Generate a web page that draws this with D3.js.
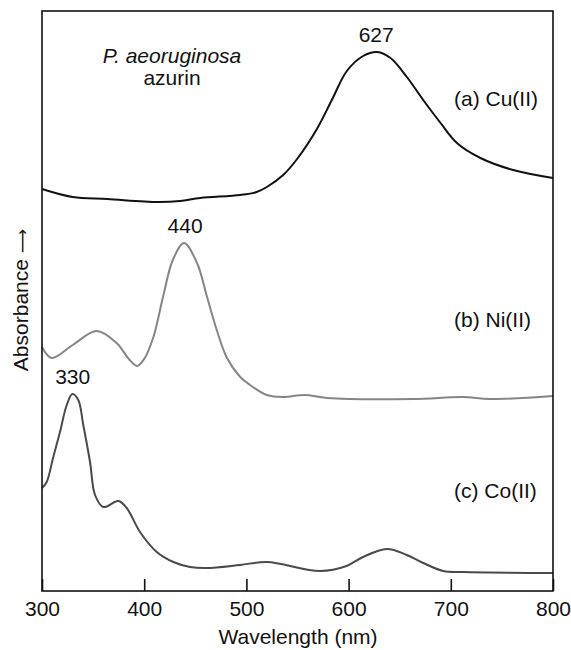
<!DOCTYPE html>
<html>
<head>
<meta charset="utf-8">
<script src="https://cdn.jsdelivr.net/npm/d3@7"></script>
<style>
  html, body { margin: 0; padding: 0; background: #fff; }
  svg { display: block; font-family: "Liberation Sans", Arial, Helvetica, sans-serif; }
</style>
</head>
<body>
<svg id="chart" width="571" height="650"></svg>
<script>
// ---- data (wavelength in nm, absorbance in arbitrary offset units) ----
const xTicks = [300, 400, 500, 600, 700, 800];

const cuWave = [300, 330, 364, 413, 435, 455, 494, 510, 520, 536, 549.6, 569, 583.6, 598.3, 614.2, 628, 641, 657, 673, 690, 706, 729, 761, 800];
const cuAbs  = [40.2, 39.4, 39.2, 38.9, 39.0, 39.3, 39.6, 39.9, 40.4, 41.6, 43.2, 46.2, 49.1, 52.0, 53.5, 53.9, 53.3, 51.4, 49.1, 46.8, 44.8, 43.3, 42.1, 41.3];

const niWave = [300, 309.5, 330, 353.5, 373, 385, 393, 400, 409, 418.4, 428, 439, 451.7, 461.5, 471, 481, 494, 503.6, 520, 536, 557, 579, 663, 712, 738.5, 800];
const niAbs  = [24.4, 23.3, 24.6, 26.0, 24.8, 23.2, 22.5, 23.2, 25.4, 29.4, 33.1, 34.8, 32.8, 29.4, 26.1, 23.3, 21.4, 20.6, 19.6, 19.4, 19.6, 19.3, 19.2, 19.4, 19.2, 19.5];

const coWave = [300, 304.6, 310.8, 317.6, 324.2, 329.7, 335.5, 340.4, 347, 351.9, 360, 374.7, 382.9, 395.9, 412.3, 428.5, 444.9, 461.2, 493.8, 520, 572, 598, 614, 637.4, 657, 673, 692.5, 712, 800];
const coAbs  = [10.3, 10.9, 13.3, 15.9, 18.6, 19.7, 19.1, 16.6, 12.9, 9.6, 8.4, 9.0, 8.3, 5.9, 3.9, 2.9, 2.4, 2.3, 2.6, 2.9, 2.0, 2.5, 3.4, 4.2, 3.6, 2.8, 2.0, 1.9, 1.8];

const seriesNames = ["(a) Cu(II)", "(b) Ni(II)", "(c) Co(II)"];
const peakLabels = ["627", "440", "330"];
const peakWaves = [627, 440, 330];
const peakAbs = [53.9, 34.8, 19.7];

// ---- layout ----
const svg = d3.select("#chart");
const mLeft = 42, mRight = 553, mTop = 11, mBottom = 591;
const x = d3.scaleLinear().domain([300, 800]).range([mLeft, mRight]);
const y = d3.scaleLinear().domain([0, 58]).range([mBottom, mTop]);
const FS = 21;

const series = [
  { w: cuWave, a: cuAbs, color: "#111111" },
  { w: niWave, a: niAbs, color: "#858585" },
  { w: coWave, a: coAbs, color: "#4a4a4a" }
];

const line = d3.line()
  .x(d => x(d[0]))
  .y(d => y(d[1]))
  .curve(d3.curveCatmullRom.alpha(0.5));

series.forEach(s => {
  svg.append("path")
    .datum(s.w.map((w, i) => [w, s.a[i]]))
    .attr("fill", "none")
    .attr("stroke", s.color)
    .attr("stroke-width", 2)
    .attr("stroke-linejoin", "round")
    .attr("d", line);
});

// frame
svg.append("rect")
  .attr("x", mLeft).attr("y", mTop)
  .attr("width", mRight - mLeft).attr("height", mBottom - mTop)
  .attr("fill", "none").attr("stroke", "#111").attr("stroke-width", 1.6);

// x axis
const xAxis = d3.axisBottom(x)
  .tickValues(xTicks)
  .tickFormat(d3.format("d"))
  .tickSizeInner(-12)
  .tickSizeOuter(0)
  .tickPadding(10);
const gx = svg.append("g").attr("transform", `translate(0,${mBottom})`).call(xAxis);
gx.select(".domain").remove();
gx.selectAll(".tick line").attr("stroke", "#111").attr("stroke-width", 1.6);
gx.selectAll(".tick text")
  .attr("fill", "#111")
  .style("font-size", FS + "px")
  .style("font-family", "Liberation Sans, Arial, sans-serif");

// axis titles
svg.append("text")
  .attr("x", 298).attr("y", 644)
  .attr("text-anchor", "middle")
  .style("font-size", FS + "px").attr("fill", "#111")
  .text("Wavelength (nm)");

const yt = svg.append("text")
  .attr("transform", "translate(28,300) rotate(-90)")
  .attr("text-anchor", "middle")
  .style("font-size", FS + "px").attr("fill", "#111");
yt.append("tspan").text("Absorbance ");
yt.append("tspan").style("font-family", "DejaVu Sans").style("font-size", "17px").text("\u27F6");

// series labels
const labelY = [106, 327, 498];
seriesNames.forEach((n, i) => {
  svg.append("text")
    .attr("x", 454).attr("y", labelY[i])
    .style("font-size", FS + "px").attr("fill", "#111")
    .text(n);
});

// peak labels
peakLabels.forEach((p, i) => {
  svg.append("text")
    .attr("x", x(peakWaves[i]))
    .attr("y", y(peakAbs[i]) - 10)
    .attr("text-anchor", "middle")
    .style("font-size", FS + "px").attr("fill", "#111")
    .text(p);
});

// title
svg.append("text")
  .attr("x", 172).attr("y", 63)
  .attr("text-anchor", "middle")
  .style("font-size", FS + "px").style("font-style", "italic").attr("fill", "#111")
  .text("P. aeoruginosa");
svg.append("text")
  .attr("x", 172).attr("y", 85)
  .attr("text-anchor", "middle")
  .style("font-size", FS + "px").attr("fill", "#111")
  .text("azurin");
</script>
</body>
</html>
